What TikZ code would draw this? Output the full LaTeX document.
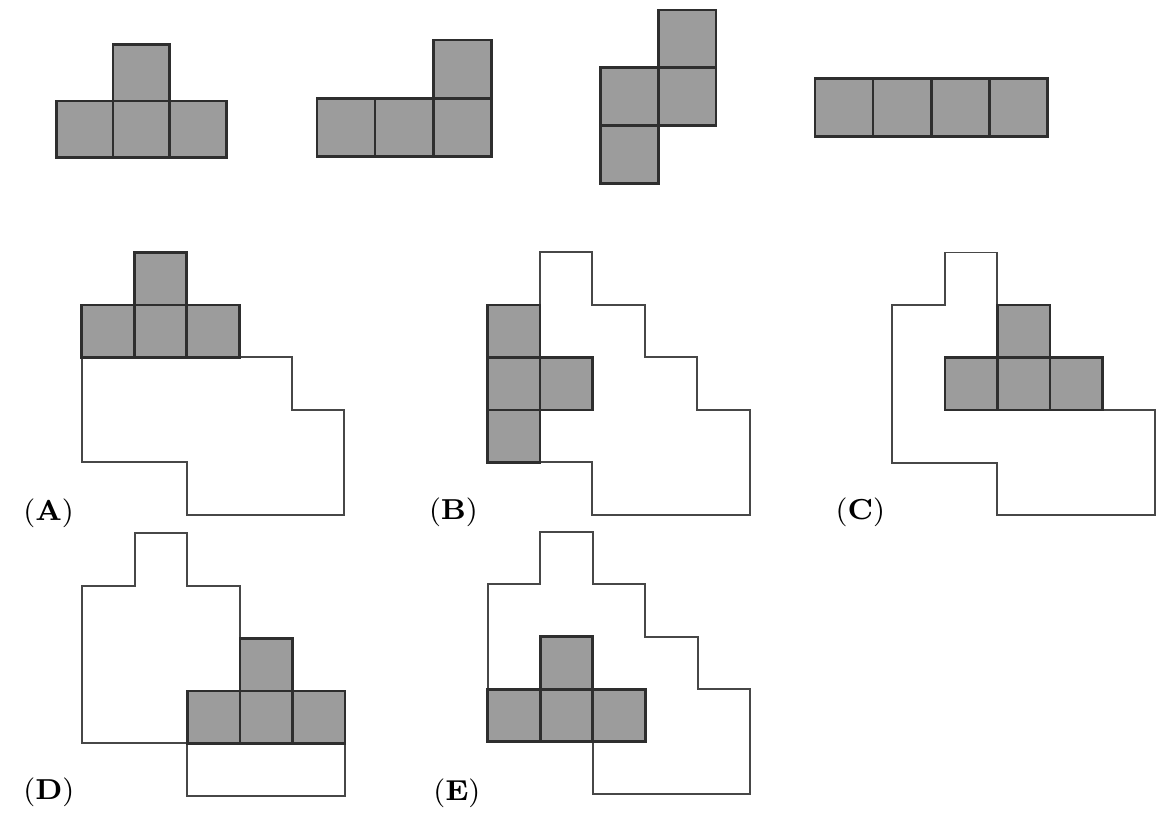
\documentclass[tikz,border=0pt]{standalone}
\begin{document}
\begin{tikzpicture}[x=0.01cm,y=-0.01cm,
  piece/.style={fill=black!39, draw=black!82, line width=0.75pt, line join=miter},
  region/.style={draw=black!72, line width=0.55pt, fill=none},
  lbl/.style={anchor=west, inner sep=0pt, font=\fontsize{8.2}{10}\selectfont}]
\useasboundingbox (0,0) rectangle (1169,828);
\newcommand\cell[3]{\filldraw[piece] (#1,#2) rectangle ++(#3,#3);}
\newcommand\regionpath{(1,0) -- (2,0) -- (2,1) -- (3,1) -- (3,2) -- (4,2) -- (4,3) -- (5,3) -- (5,5) -- (2,5) -- (2,4) -- (0,4) -- (0,1) -- (1,1) -- cycle}
% ---- top row: the four pieces ----
% T piece
\cell{113}{44.3}{56.7}
\cell{56.3}{101}{56.7}\cell{113}{101}{56.7}\cell{169.7}{101}{56.7}
% L piece
\cell{433.3}{40}{58.2}
\cell{316.9}{98.2}{58.2}\cell{375.1}{98.2}{58.2}\cell{433.3}{98.2}{58.2}
% S piece
\cell{658.2}{10}{57.8}
\cell{600.4}{67.8}{57.8}\cell{658.2}{67.8}{57.8}
\cell{600.4}{125.6}{57.8}
% I piece
\cell{815}{78.4}{58.1}\cell{873.1}{78.4}{58.1}\cell{931.2}{78.4}{58.1}\cell{989.3}{78.4}{58.1}
% ---- (A) ----
\begin{scope}[shift={(81.7,252.3)},x=0.525cm,y=-0.525cm]
  \draw[region] \regionpath;
  \filldraw[piece] (1,0) rectangle ++(1,1);
  \foreach \c in {0,1,2} \filldraw[piece] (\c,1) rectangle ++(1,1);
\end{scope}
\node[lbl] (la) at (22.7,513.5) {(\textbf{A})};
% ---- (B) ----
\begin{scope}[shift={(487.3,252.3)},x=0.525cm,y=-0.525cm]
  \draw[region] \regionpath;
  \foreach \r in {1,2,3} \filldraw[piece] (0,\r) rectangle ++(1,1);
  \filldraw[piece] (1,2) rectangle ++(1,1);
\end{scope}
\node[lbl] (lb) at (428.3,512.5) {(\textbf{B})};
% ---- (C) ----
\begin{scope}[shift={(892.3,252.5)},x=0.525cm,y=-0.525cm]
  \draw[region] \regionpath;
  \filldraw[piece] (2,1) rectangle ++(1,1);
  \foreach \c in {1,2,3} \filldraw[piece] (\c,2) rectangle ++(1,1);
\end{scope}
\node[lbl] (lc) at (835,512.5) {(\textbf{C})};
% ---- (D) ----
\begin{scope}[shift={(82.3,533.3)},x=0.525cm,y=-0.525cm]
  \draw[region] \regionpath;
  \filldraw[piece] (3,2) rectangle ++(1,1);
  \foreach \c in {2,3,4} \filldraw[piece] (\c,3) rectangle ++(1,1);
\end{scope}
\node[lbl] (ld) at (22.7,792.5) {(\textbf{D})};
% ---- (E) ----
\begin{scope}[shift={(487.7,531.7)},x=0.525cm,y=-0.525cm]
  \draw[region] \regionpath;
  \filldraw[piece] (1,2) rectangle ++(1,1);
  \foreach \c in {0,1,2} \filldraw[piece] (\c,3) rectangle ++(1,1);
\end{scope}
\node[lbl] (le) at (432.7,793.5) {(\textbf{E})};
\end{tikzpicture}
\end{document}
